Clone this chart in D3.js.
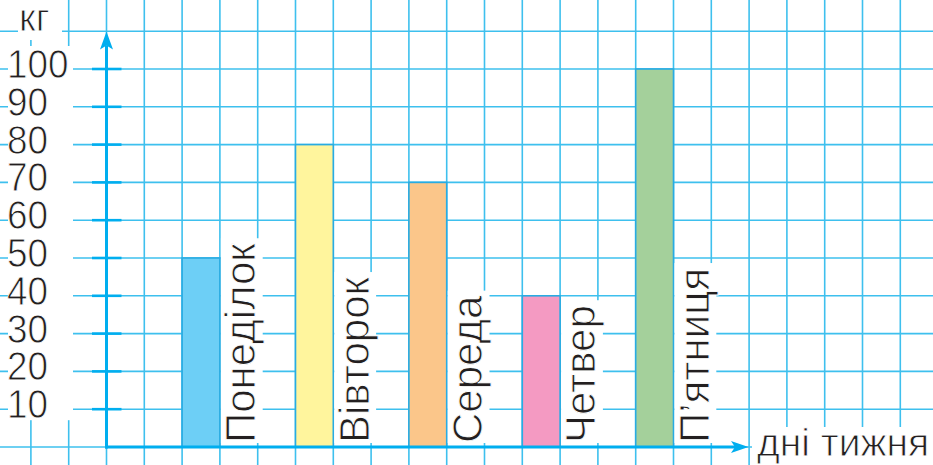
<!DOCTYPE html>
<html>
<head>
<meta charset="utf-8">
<title>кг по днях</title>
<script src="https://cdn.jsdelivr.net/npm/d3@7"></script>
<style>
  body { margin: 0; background: #fff; }
  /* thin white outline makes the glyphs look lighter, like the printed original */
  text { font-family: "Liberation Sans", Arial, Helvetica, sans-serif; fill: #231f20;
         stroke: #fff; stroke-width: 0.9px; paint-order: fill; }
</style>
</head>
<body>
<script>
// data
var days = ["Понеділок", "Вівторок", "Середа", "Четвер", "П’ятниця"];
var values = [50, 80, 70, 40, 100];
var barColors = ["#6dcff6", "#fff59d", "#fbc68a", "#f49ac2", "#a4d09b"];
var tickValues = [10, 20, 30, 40, 50, 60, 70, 80, 90, 100];
var yLabel = "кг";
var xLabel = "дні тижня";

var width = 933, height = 465;
var gridColor = "#3ec0ee", axisColor = "#00aeef";

var svg = d3.select("body").append("svg").attr("width", width).attr("height", height);

var y = d3.scaleLinear().domain([0, 100]).range([447, 69]);
var cell = y(0) - y(10);
// grid columns counted in cells from the y axis
var gx = d3.scaleLinear().domain([0, 1]).range([106.5, 106.5 + cell]);
var x = d3.scaleBand().domain(days).range([gx(2), gx(15)]).paddingInner(2 / 3).paddingOuter(0);

// grid paper
var gridRows = d3.range(0, 120, 10);
var gridCols = d3.range(-2, 23);
svg.append("g").selectAll("line").data(gridRows).enter().append("line")
  .attr("x1", 0).attr("x2", width)
  .attr("y1", function(d) { return y(d); }).attr("y2", function(d) { return y(d); })
  .attr("stroke", gridColor).attr("stroke-width", 1.6);
svg.append("g").selectAll("line").data(gridCols).enter().append("line")
  .attr("y1", 0).attr("y2", height)
  .attr("x1", function(d) { return gx(d); }).attr("x2", function(d) { return gx(d); })
  .attr("stroke", gridColor).attr("stroke-width", 1.6);

// white patches behind the texts
svg.append("rect").attr("x", 8).attr("y", y(100) - 23).attr("width", 65)
  .attr("height", y(10) - y(100) + 34).attr("fill", "#fff");
svg.append("rect").attr("x", 18).attr("y", 0).attr("width", 44).attr("height", 40).attr("fill", "#fff");
svg.append("rect").attr("x", 752).attr("y", 427).attr("width", width - 752).attr("height", 40).attr("fill", "#fff");

// bars
svg.append("g").selectAll("rect").data(days).enter().append("rect")
  .attr("x", function(d) { return x(d); })
  .attr("y", function(d, i) { return y(values[i]); })
  .attr("width", x.bandwidth())
  .attr("height", function(d, i) { return y(0) - y(values[i]); })
  .attr("fill", function(d, i) { return barColors[i]; })
  .attr("stroke", "#29abe2").attr("stroke-width", 1.6);

// day labels, rotated, in the cell right of each bar
var lab = svg.append("g").selectAll("g").data(days).enter().append("g")
  .attr("transform", function(d) {
    return "translate(" + (x(d) + 2 * x.bandwidth() - 2.5) + "," + (y(0) - 4) + ") rotate(-90)";
  });
lab.append("rect").attr("fill", "#fff");
lab.append("text").attr("x", 0).attr("y", 0).style("font-size", "42px").text(function(d) { return d; });
lab.each(function() {
  var g = d3.select(this);
  var w = g.select("text").node().getComputedTextLength();
  g.select("rect").attr("x", 0).attr("y", -(x.bandwidth() - 3.5)).attr("width", w + 5).attr("height", x.bandwidth() + 4);
});

// axes
svg.append("line").attr("x1", 106.5).attr("x2", 106.5).attr("y1", y(0) + 1.5).attr("y2", 46)
  .attr("stroke", axisColor).attr("stroke-width", 3);
svg.append("line").attr("x1", 105).attr("x2", 736).attr("y1", y(0)).attr("y2", y(0))
  .attr("stroke", axisColor).attr("stroke-width", 3);
svg.append("path").attr("d", "M106.5,31.5 L113,49.5 L106.5,45.5 L100,49.5 Z").attr("fill", axisColor);
svg.append("path").attr("d", "M748.5,447 L731,441 L735,447 L731,453 Z").attr("fill", axisColor);

// y ticks
svg.append("g").selectAll("line").data(tickValues).enter().append("line")
  .attr("x1", 92).attr("x2", 121.5)
  .attr("y1", function(d) { return y(d); }).attr("y2", function(d) { return y(d); })
  .attr("stroke", axisColor).attr("stroke-width", 2.6);

svg.append("g").selectAll("text").data(tickValues).enter().append("text")
  .attr("transform", function(d) { return "translate(7," + (y(d) + 9) + ") scale(0.9,1)"; })
  .style("font-size", "41px")
  .text(function(d) { return d; });

svg.append("text").attr("x", 19).attr("y", 31).style("font-size", "38px").text(yLabel);
svg.append("text").attr("x", 757).attr("y", 456).style("font-size", "39px").text(xLabel);
</script>
</body>
</html>
